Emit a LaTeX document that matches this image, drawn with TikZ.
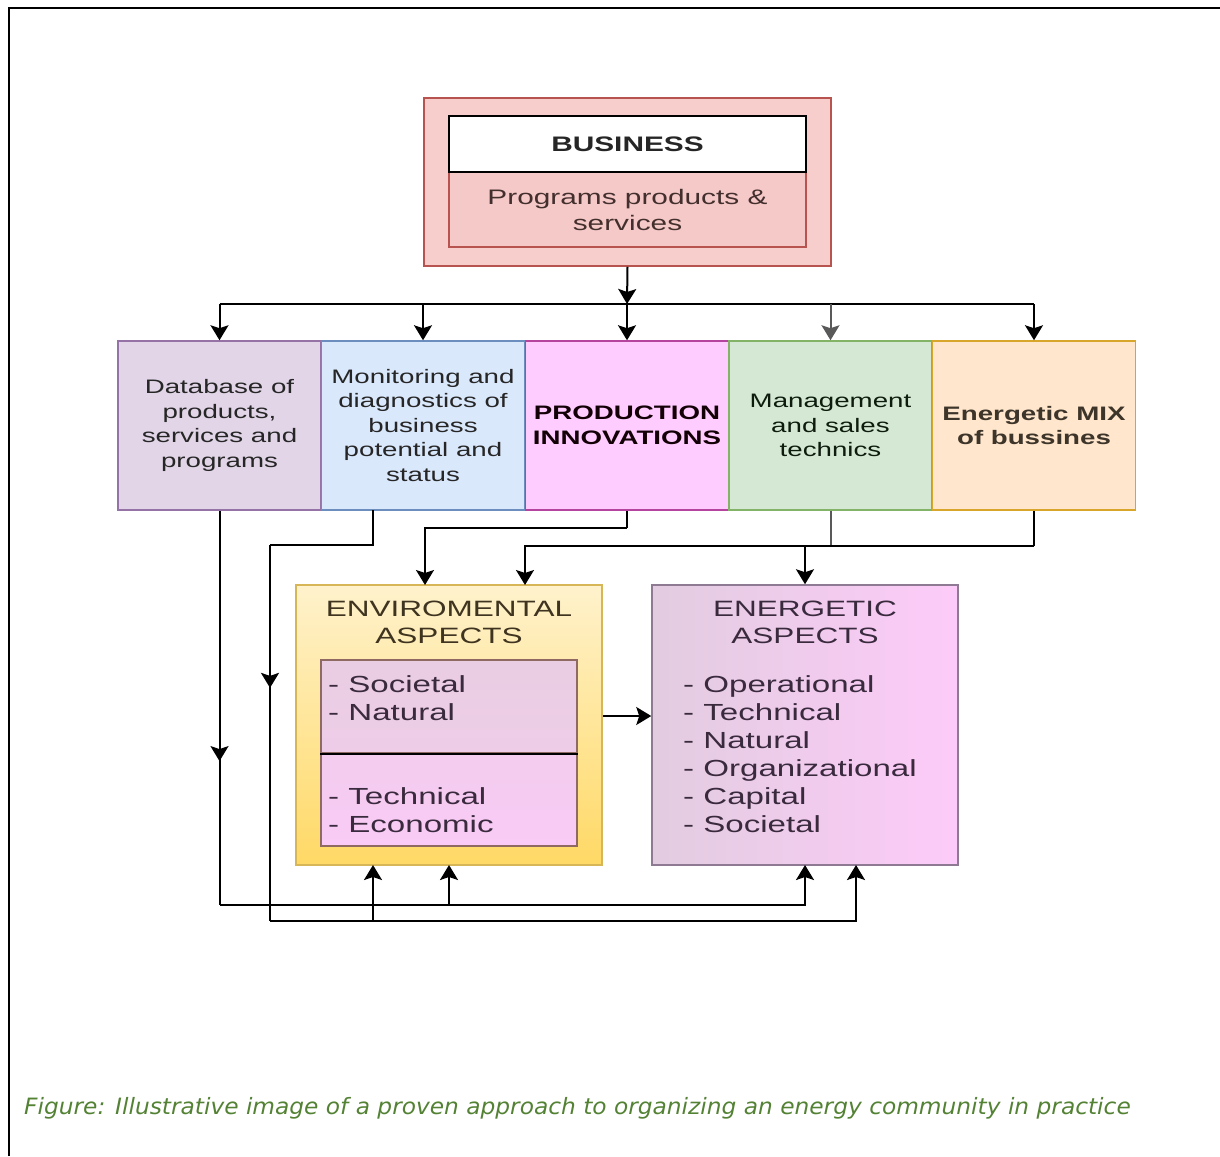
\documentclass[tikz,border=0pt]{standalone}
\usepackage{fontspec}
\usetikzlibrary{arrows.meta,decorations.markings,calc}
\newfontfamily\diagfont[FakeStretch=1.42]{Liberation Sans}
\newfontfamily\capfont[FakeStretch=1.035]{DejaVu Sans}
\definecolor{bizfill}{HTML}{F8CECC}
\definecolor{bizline}{HTML}{B85450}
\definecolor{dbfill}{HTML}{E1D5E7}
\definecolor{dbline}{HTML}{9673A6}
\definecolor{monfill}{HTML}{DAE8FC}
\definecolor{monline}{HTML}{6C8EBF}
\definecolor{prodfill}{HTML}{FFCCFF}
\definecolor{prodline}{HTML}{B5449F}
\definecolor{mgmfill}{HTML}{D5E8D4}
\definecolor{mgmline}{HTML}{82B366}
\definecolor{mixfill}{HTML}{FFE6CC}
\definecolor{mixline}{HTML}{D7A62B}
\definecolor{envtop}{HTML}{FFF2CC}
\definecolor{envbot}{HTML}{FFD966}
\definecolor{envline}{HTML}{D6B656}
\definecolor{inA}{HTML}{E9CDE2}
\definecolor{inB}{HTML}{F9CBF6}
\definecolor{inline}{HTML}{8E6A62}
\definecolor{enL}{HTML}{E2CCE0}
\definecolor{enR}{HTML}{FDCBF9}
\definecolor{enline}{HTML}{8F7A94}
\definecolor{txt}{HTML}{262626}
\definecolor{purptxt}{HTML}{3A2A3E}
\definecolor{envtxt}{HTML}{3F3420}
\definecolor{capgreen}{HTML}{548235}
\tikzset{
  rowbox/.style={draw, line width=1.5pt, minimum width=203pt, minimum height=169pt, inner sep=0pt, align=center, text=txt,
    font=\diagfont\fontsize{19.5}{24.5}\selectfont},
  line/.style={line width=2pt, draw=black},
  conn/.style={line, -{Stealth[length=15pt,width=18pt,inset=3pt]}},
  midarrow/.style={line, postaction={decorate}, decoration={markings, mark=at position #1 with {\arrow{Stealth[length=15pt,width=18pt,inset=3pt]}}}},
  bigbox/.style={draw, line width=1.5pt, minimum width=306pt, minimum height=280pt, inner sep=0pt},
  title/.style={align=center, font=\diagfont\fontsize{22.2}{27}\selectfont},
  list/.style={align=left, anchor=west, inner sep=0pt, font=\diagfont\fontsize{23.3}{28}\selectfont}
}
\begin{document}
\begin{tikzpicture}[x=1pt,y=1pt]
\useasboundingbox (0,0) rectangle (1220,-1156);
% frame
\draw[line width=2.5pt] (9,-1156) -- (9,-8) -- (1220,-8);
% business
\node[draw=bizline, fill=bizfill, line width=1.5pt, minimum width=407pt, minimum height=168pt, inner sep=0pt] (biz) at (627.5,-182) {};
\node[draw=bizline, fill=bizfill!96!bizline, line width=1.5pt, minimum width=357pt, minimum height=75pt, inner sep=0pt, align=center, text=txt!80!bizline,
  font=\diagfont\fontsize{21}{26}\selectfont] (bizlow) at (627.5,-209.5) {Programs products \&\\services};
\node[draw=black, fill=white, line width=1.5pt, minimum width=357pt, minimum height=56pt, inner sep=0pt, text=txt,
  font=\diagfont\bfseries\fontsize{21}{26}\selectfont] (bizhead) at (627.5,-144) {BUSINESS};
% row boxes
\node[rowbox, fill=dbfill, draw=dbline] (b1) at (219.5,-425.5) {Database of\\products,\\services and\\programs};
\node[rowbox, fill=monfill, draw=monline] (b2) at (423,-425.5) {Monitoring and\\diagnostics of\\business\\potential and\\status};
\node[rowbox, fill=prodfill, draw=prodline, font=\diagfont\bfseries\fontsize{19.5}{24.5}\selectfont, text=black!90!purple] (b3) at (627,-425.5) {PRODUCTION\\INNOVATIONS};
\node[rowbox, fill=mgmfill, draw=mgmline, text=txt!85!green!40!black] (b4) at (830.5,-425.5) {Management\\and sales\\technics};
\node[rowbox, fill=mixfill, draw=mixline, font=\diagfont\bfseries\fontsize{19.5}{24.5}\selectfont, text=txt!85!brown] (b5) at (1034,-425.5) {Energetic MIX\\of bussines};
% environmental box
\node[bigbox, draw=envline, top color=envtop, bottom color=envbot] (env) at (449,-725) {};
\node[title, text=envtxt] (envt) at (449,-622.5) {ENVIROMENTAL\\ASPECTS};
\node[draw=inline, line width=1.5pt, top color=inA, bottom color=inA!70!inB, minimum width=256pt, minimum height=93pt, inner sep=0pt] (inup) at (449,-706.5) {};
\node[draw=inline, line width=1.5pt, top color=inA!40!inB, bottom color=inB, minimum width=256pt, minimum height=93pt, inner sep=0pt] (indn) at (449,-799.5) {};
\draw[line width=1.5pt] (inup.south west) -- (inup.south east);
\node[list, text=purptxt] (envl1) at (328,-698) {- Societal\\- Natural};
\node[list, text=purptxt] (envl2) at (328,-810) {- Technical\\- Economic};
% energetic box
\node[bigbox, draw=enline, left color=enL, right color=enR] (en) at (805,-725) {};
\node[title, text=purptxt] (ent) at (805,-622.5) {ENERGETIC\\ASPECTS};
\node[list, text=purptxt] (enl) at (683,-754) {- Operational\\- Technical\\- Natural\\- Organizational\\- Capital\\- Societal};
% top bus
\coordinate (bus) at (627,-304);
\draw[conn] (biz.south) -- (bus);
\draw[line] (b1.north |- bus) -- (b5.north |- bus);
\draw[conn] (b1.north |- bus) -- (b1.north);
\draw[conn] (b2.north |- bus) -- (b2.north);
\draw[conn] (b3.north |- bus) -- (b3.north);
\draw[conn, draw=black!65] (b4.north |- bus) -- (b4.north);
\draw[conn] (b5.north |- bus) -- (b5.north);
% lower connectors
\coordinate (botA) at (0,-905);
\coordinate (botB) at (0,-921);
\coordinate (b2o) at (373,-510);
\coordinate (b2k) at (373,-545);
\coordinate (leftB) at (270,-545);
\coordinate (envA) at (373,-865);
\coordinate (envB) at (449,-865);
\coordinate (enA) at (805,-865);
\coordinate (enB) at (856,-865);
\coordinate (envT1) at (425,-585);
\coordinate (envT2) at (525,-585);
\coordinate (p3) at (627,-528);
\coordinate (p5) at (1034,-546);
% box1 -> env & energetic
\draw[midarrow=0.635] (b1.south) -- (b1.south |- botA);
\draw[conn] (b1.south |- botA) -| (enA);
\draw[conn] (envB |- botA) -- (envB);
% box2 -> env & energetic
\draw[line] (b2o) -- (b2k) -- (leftB);
\draw[midarrow=0.38] (leftB) -- (leftB |- botB);
\draw[conn] (leftB |- botB) -| (enB);
\draw[conn] (envA |- botB) -- (envA);
% box3 -> env
\draw[line] (b3.south) -- (p3);
\draw[conn] (p3) -| (envT1);
% box4, box5 -> env & energetic
\draw[line, draw=black!65] (b4.south) -- (b4.south |- p5);
\draw[line] (b5.south) -- (p5);
\draw[conn] (p5) -| (envT2);
\draw[conn] (en.north |- p5) -- (en.north);
% env -> energetic
\draw[conn] ($(env.east)+(0,9)$) -- ($(en.west)+(0,9)$);
% caption
\node[anchor=west, inner sep=0pt, text=capgreen, font=\capfont\itshape\fontsize{22.5}{26}\selectfont] (cap) at (24,-1108) {Figure: Illustrative image of a proven approach to organizing an energy community in practice};
\end{tikzpicture}
\end{document}
